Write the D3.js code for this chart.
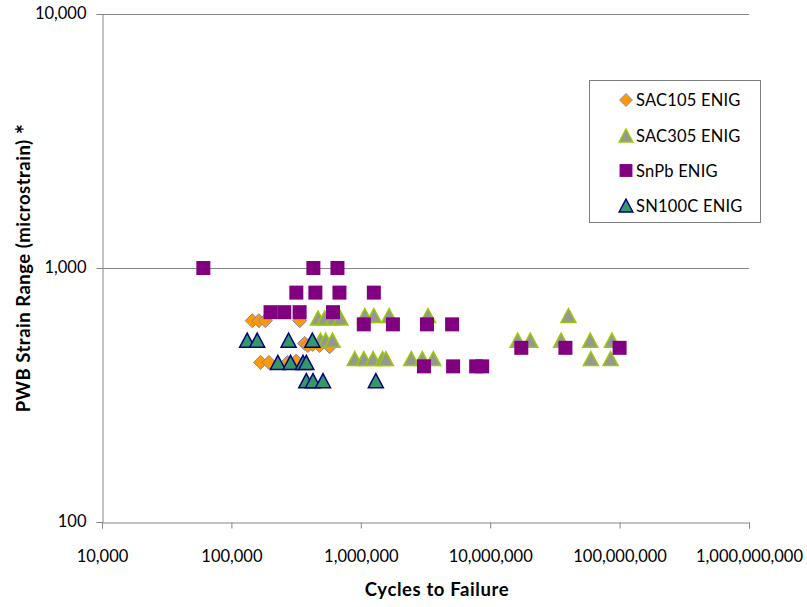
<!DOCTYPE html>
<html>
<head>
<meta charset="utf-8">
<script src="https://cdn.jsdelivr.net/npm/d3@7"></script>
<style>
  html, body { margin: 0; padding: 0; background: #ffffff; }
  svg { display: block; }
  text { font-family: Lato, "Open Sans", "Liberation Sans", sans-serif; fill: #000; }
</style>
</head>
<body>
<svg id="chart" width="807" height="607"></svg>
<script>
// Fatigue life data: cycles to failure vs PWB strain range (microstrain)
const seriesNames = ["SAC105 ENIG", "SAC305 ENIG", "SnPb ENIG", "SN100C ENIG"];

const sac105Cycles = [145000, 163000, 183000, 337000, 368000, 390000, 425000, 480000, 575000, 168000, 195000, 272000, 317000];
const sac105Strain = [620, 620, 620, 620, 505, 495, 500, 495, 490, 425, 425, 425, 430];

const sac305Cycles = [1074000, 1261000, 1656000, 3306000, 40270000,
                      467000, 526000, 610000, 696000,
                      487000, 535000, 604000, 16300000, 20400000, 35300000, 59300000, 87200000,
                      898000, 1055000, 1245000, 1473000, 1563000, 2455000, 2986000, 3633000, 60000000, 85200000];
const sac305Strain = [650, 650, 650, 650, 650,
                      635, 635, 635, 635,
                      520, 520, 520, 520, 520, 520, 520, 520,
                      440, 440, 440, 440, 440, 440, 440, 440, 440, 440];

const snpbCycles = [60700, 430000, 660000,
                    317500, 445500, 684000, 1261000,
                    200600, 256300, 336600, 610000,
                    1055000, 1771000, 3248000, 5075000,
                    17390000, 38120000, 100000000,
                    3077000, 5168000, 7787000, 8670000];
const snpbStrain = [1000, 1000, 1000,
                    800, 800, 800, 800,
                    670, 670, 670, 670,
                    600, 600, 600, 600,
                    485, 485, 485,
                    410, 410, 410, 410];

const sn100cCycles = [132400, 158200, 276600, 422400,
                      228500, 286600, 357300, 379300,
                      379300, 427000, 510300, 1307000];
const sn100cStrain = [520, 520, 520, 520,
                      425, 425, 425, 425,
                      360, 360, 360, 360];

const xTicks = [1e4, 1e5, 1e6, 1e7, 1e8, 1e9];
const yTicks = [100, 1000, 10000];

const svg = d3.select("#chart");

const x = d3.scaleLog().domain([1e4, 1e9]).range([102, 749]);
const y = d3.scaleLog().domain([100, 10000]).range([522, 14]);

const axisColor = "#868686";

// horizontal gridlines
svg.append("g")
  .selectAll("line")
  .data(yTicks.filter(d => d > 100))
  .join("line")
  .attr("x1", x.range()[0]).attr("x2", x.range()[1])
  .attr("y1", d => Math.round(y(d)) + 0.5).attr("y2", d => Math.round(y(d)) + 0.5)
  .attr("stroke", axisColor).attr("stroke-width", 1);

// y axis
const yAxis = svg.append("g")
  .attr("transform", `translate(${x.range()[0] + 0.5},0)`)
  .call(d3.axisLeft(y).tickValues(yTicks).tickFormat(d3.format(",")).tickSize(6).tickPadding(10));
yAxis.select(".domain").attr("stroke", axisColor);
yAxis.selectAll(".tick line").attr("stroke", axisColor);
yAxis.selectAll(".tick text").attr("font-size", 16.5).attr("font-family", "Lato").attr("fill", "#000").attr("dy", "0.3em");

// x axis
const xAxis = svg.append("g")
  .attr("transform", `translate(0,${y.range()[0] + 0.5})`)
  .call(d3.axisBottom(x).tickValues(xTicks).tickFormat(d3.format(",")).tickSize(6));
xAxis.select(".domain").attr("stroke", axisColor);
xAxis.selectAll(".tick line").attr("stroke", axisColor);
xAxis.selectAll(".tick text").attr("font-size", 16.5).attr("font-family", "Lato").attr("fill", "#000")
  .attr("y", 39.5).attr("dy", 0);

// axis titles
svg.append("text")
  .attr("x", 437).attr("y", 596)
  .attr("text-anchor", "middle")
  .attr("font-size", 18.5).attr("font-weight", "bold")
  .attr("letter-spacing", 0.6)
  .text("Cycles to Failure");

const yTitle = svg.append("text")
  .attr("transform", "translate(30,268) rotate(-90)")
  .attr("text-anchor", "middle")
  .attr("font-size", 18.5).attr("font-weight", "bold")
  .attr("letter-spacing", 0.5);
yTitle.append("tspan").text("PWB Strain Range (microstrain)  ");
yTitle.append("tspan").attr("font-size", 24).attr("dy", 4).text("*");

// marker shapes, centred on the point
const shapes = {
  diamond: "M0,-7L7,0L0,7L-7,0Z",
  square: "M-7,-7H7V7H-7Z",
  triangle: "M0,-7L7.5,7H-7.5Z"
};

const series = [
  { name: seriesNames[0], cycles: sac105Cycles, strain: sac105Strain, shape: shapes.diamond, fill: "#FF9900", stroke: "#8585C2", sw: 1 },
  { name: seriesNames[1], cycles: sac305Cycles, strain: sac305Strain, shape: shapes.triangle, fill: "#969696", stroke: "#99CC00", sw: 1.5 },
  { name: seriesNames[2], cycles: snpbCycles, strain: snpbStrain, shape: shapes.square, fill: "#800080", stroke: "none", sw: 0 },
  { name: seriesNames[3], cycles: sn100cCycles, strain: sn100cStrain, shape: shapes.triangle, fill: "#339966", stroke: "#000080", sw: 1.5 }
];

const plot = svg.append("g");
series.forEach(s => {
  plot.append("g")
    .selectAll("path")
    .data(s.cycles.map((c, i) => [c, s.strain[i]]))
    .join("path")
    .attr("d", s.shape)
    .attr("transform", d => `translate(${x(d[0])},${y(d[1])})`)
    .attr("fill", s.fill)
    .attr("stroke", s.stroke)
    .attr("stroke-width", s.sw)
    .attr("stroke-linejoin", "miter");
});

// legend
const legend = svg.append("g");
legend.append("rect")
  .attr("x", 589.5).attr("y", 80.5).attr("width", 171).attr("height", 142)
  .attr("fill", "#fff").attr("stroke", "#7f7f7f").attr("stroke-width", 1);

const rowY = [100, 135.5, 170.5, 205.5];
series.forEach((s, i) => {
  const g = legend.append("g").attr("transform", `translate(626,${rowY[i]})`);
  g.append("path")
    .attr("d", s.shape)
    .attr("transform", "scale(0.92)")
    .attr("fill", s.fill).attr("stroke", s.stroke).attr("stroke-width", s.sw);
  g.append("text")
    .attr("x", 10).attr("y", 6)
    .attr("font-size", 16.5)
    .attr("letter-spacing", 0.2)
    .text(s.name);
});
</script>
</body>
</html>
